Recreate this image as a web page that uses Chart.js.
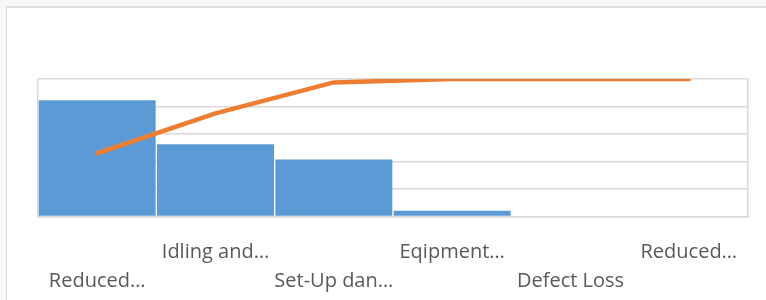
<!DOCTYPE html>
<html>
<head>
<meta charset="utf-8">
<script src="https://cdn.jsdelivr.net/npm/chart.js@4/dist/chart.umd.min.js"></script>
<style>
  html, body { margin: 0; padding: 0; background: #f7f7f7; }
  #frame { position: absolute; left: 6px; top: 6px; width: 760px; height: 294px;
           background: #fff; border-left: 1px solid #d9d9d9; border-top: 2px solid #dcdcdc; }
  #pareto { position: absolute; left: 0; top: 0; }
</style>
</head>
<body>
<div id="frame"></div>
<canvas id="pareto" width="766" height="300"></canvas>
<script>
var CATEGORIES = ["Reduced…", "Idling and…", "Set-Up dan…", "Eqipment…", "Defect Loss", "Reduced…"],
    LOSSES = [85, 53, 42, 4.7, 0, 0],
    CUMULATIVE = [46, 75, 97.5, 100, 100, 100];

var GRID = "#d9d9d9";

var ctx = document.getElementById("pareto").getContext("2d");
var pareto = new Chart(ctx, {
    data: {
        labels: CATEGORIES,
        datasets: [
            {
                type: 'line',
                data: CUMULATIVE,
                yAxisID: 'y1',
                borderColor: "#ED7D31",
                borderWidth: 4.5,
                borderCapStyle: 'round',
                borderJoinStyle: 'round',
                pointRadius: 0,
                tension: 0,
                order: 0
            },
            {
                type: 'bar',
                data: LOSSES,
                yAxisID: 'y',
                backgroundColor: "#5B9BD5",
                borderColor: "rgba(255,255,255,0.25)",
                borderWidth: 1,
                categoryPercentage: 1,
                barPercentage: 1,
                order: 1
            }]
    },
    options: {
        responsive: false,
        animation: false,
        layout: { padding: { left: 38, right: 18, top: 79, bottom: 0 } },
        plugins: { legend: { display: false }, tooltip: { enabled: false } },
        scales: {
            x: {
                grid: { display: false },
                border: { display: true, color: GRID, width: 1.5 },
                // keep the plot area as tall as in the Excel original
                afterFit: function (scale) { scale.height = 83.5; },
                ticks: {
                    autoSkip: false,
                    maxRotation: 0,
                    minRotation: 0,
                    padding: 13.5,
                    color: "#595959",
                    font: { family: "'Open Sans'", size: 20, lineHeight: 1.45 },
                    // Excel staggers the long labels over two rows
                    callback: function (value, index) {
                        var label = CATEGORIES[index];
                        return index % 2 === 0 ? ["", label] : [label, ""];
                    }
                }
            },
            y: {
                position: 'left',
                min: 0,
                max: 100,
                ticks: { display: false, stepSize: 20 },
                grid: { color: GRID, lineWidth: 1.5, drawTicks: false },
                border: { display: true, color: GRID, width: 1.5 }
            },
            y1: {
                position: 'right',
                min: 0,
                max: 100,
                ticks: { display: false },
                grid: { drawOnChartArea: false, drawTicks: false },
                border: { display: true, color: GRID, width: 1.5 }
            }
        }
    }
});
</script>
</body>
</html>
